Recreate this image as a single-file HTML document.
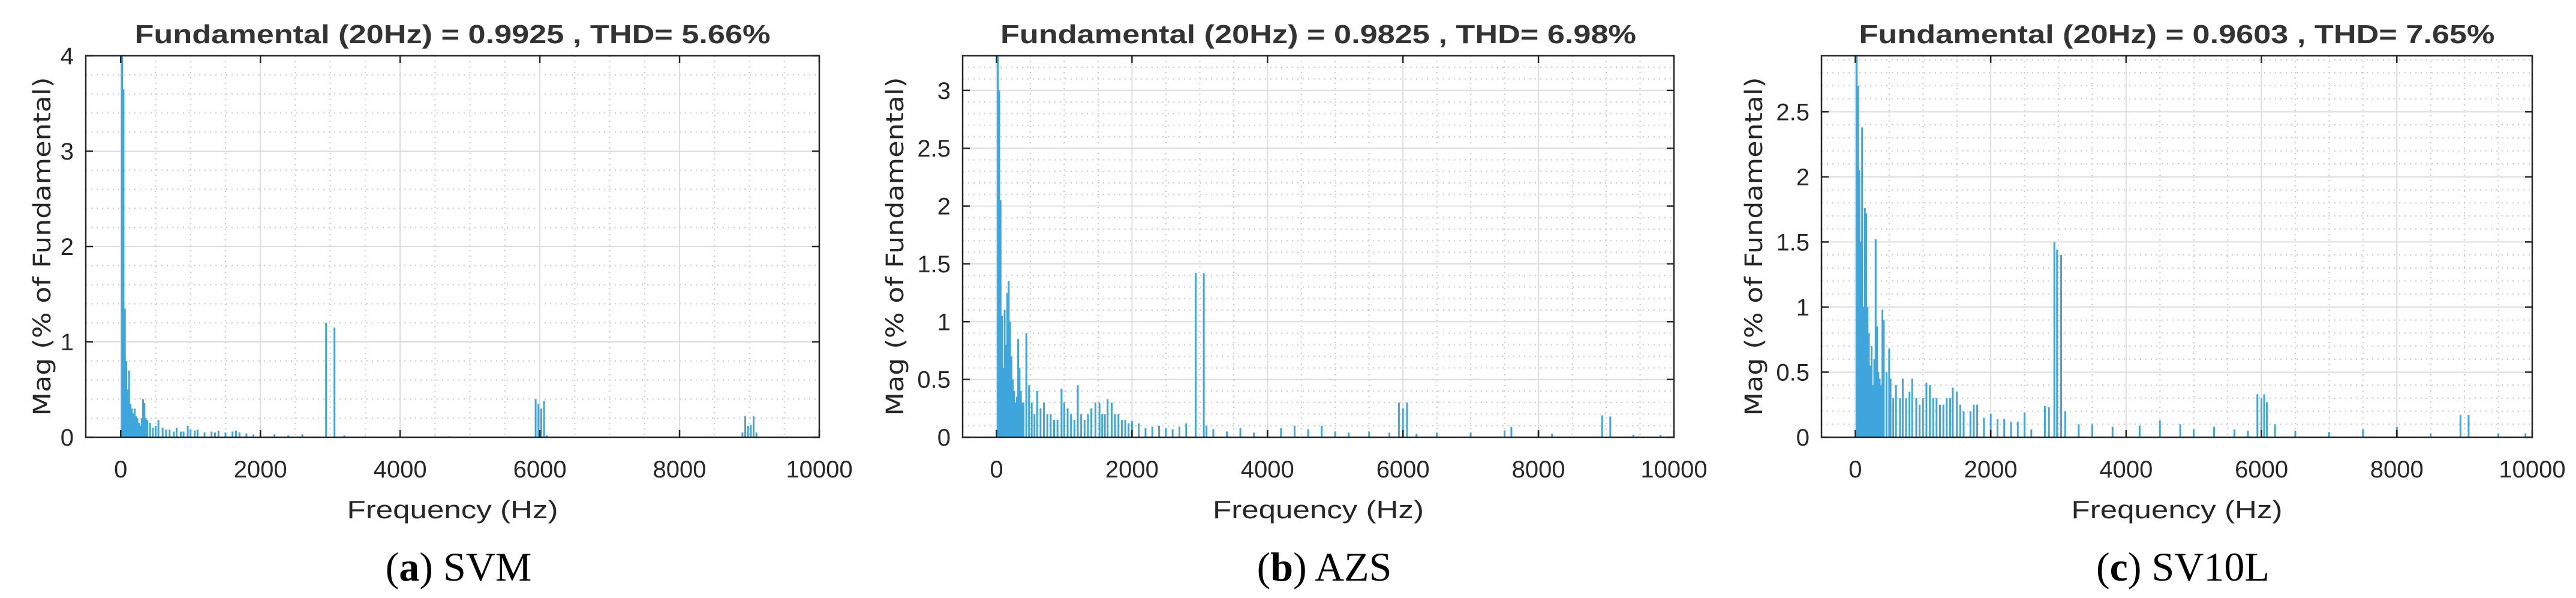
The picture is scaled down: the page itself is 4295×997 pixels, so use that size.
<!DOCTYPE html>
<html><head><meta charset="utf-8"><style>
html,body{margin:0;padding:0;background:#fff;}
svg{display:block;}
</style></head><body>
<svg id="fig" width="4295" height="997" viewBox="0 0 4295 997" xmlns="http://www.w3.org/2000/svg"></svg>
<script>
// ---- data: panel a (SVM)
const freqA = [20,40,60,80,100,120,140,160,180,200,220,240,260,280,300,320,340,360,380,420,460,500,540,600,650,700,760,800,860,900,960,1000,1060,1100,1200,1300,1350,1400,1500,1600,1650,1700,1800,1900,2000,2200,2400,2600,2940,3060,3200,3500,4500,4700,5940,5980,6020,6060,6100,8900,8940,8980,9020,9060,9100];
const magA  = [4.0,3.65,1.35,0.8,0.5,0.7,0.35,0.3,0.25,0.3,0.22,0.2,0.15,0.12,0.2,0.4,0.36,0.2,0.18,0.15,0.1,0.12,0.18,0.1,0.08,0.08,0.06,0.1,0.06,0.06,0.12,0.08,0.07,0.08,0.05,0.06,0.05,0.07,0.05,0.06,0.07,0.05,0.04,0.03,0.03,0.03,0.02,0.03,1.2,1.15,0.02,0.01,0.01,0.01,0.4,0.35,0.3,0.38,0.02,0.05,0.22,0.12,0.13,0.22,0.05];
// ---- data: panel b (AZS)
const freqB = [20,40,60,80,100,120,140,160,180,200,220,240,260,280,300,320,340,360,380,400,440,480,520,560,600,650,700,750,800,850,900,960,1000,1050,1100,1150,1200,1250,1300,1350,1400,1460,1520,1560,1600,1640,1700,1750,1800,1850,1900,1950,2000,2100,2200,2300,2400,2500,2600,2700,2800,2940,3060,3100,3200,3400,3600,3800,4000,4200,4400,4600,4800,5000,5200,5500,5800,5940,6000,6060,6200,6500,7000,7500,7600,8000,8200,8940,9060,9400,9800];
const magB  = [3.3,3.0,2.05,1.05,0.6,1.1,0.8,1.25,1.35,1.0,0.7,0.5,0.4,0.3,0.35,0.85,0.6,0.4,0.3,0.3,0.9,0.45,0.3,0.2,0.4,0.25,0.3,0.2,0.2,0.15,0.15,0.42,0.3,0.25,0.2,0.15,0.45,0.2,0.15,0.2,0.25,0.3,0.3,0.2,0.2,0.33,0.3,0.2,0.2,0.15,0.15,0.12,0.14,0.12,0.08,0.09,0.1,0.08,0.07,0.09,0.12,1.42,1.42,0.1,0.07,0.05,0.08,0.04,0.06,0.08,0.1,0.07,0.1,0.05,0.04,0.05,0.04,0.3,0.25,0.3,0.03,0.04,0.04,0.06,0.09,0.05,0.03,0.19,0.18,0.02,0.02];
// ---- data: panel c (SV10L)
const freqC = [20,40,60,80,100,120,140,160,180,200,220,240,260,280,300,320,340,360,380,400,420,460,500,520,560,600,660,700,750,800,840,900,950,1000,1050,1100,1150,1200,1250,1300,1350,1400,1440,1500,1550,1600,1700,1750,1800,1900,2000,2100,2200,2300,2400,2500,2600,2800,2860,2940,2980,3040,3100,3300,3500,3800,4200,4500,4800,5000,5300,5600,5800,5940,6000,6040,6080,6200,6500,7000,7500,8000,8500,8940,9060,9500,9900];
const magC  = [2.93,2.7,2.05,1.5,2.38,1.0,1.76,1.72,1.0,0.8,0.55,0.7,0.4,0.6,1.52,0.85,0.5,0.45,0.4,0.98,0.9,0.5,0.68,0.45,0.3,0.4,0.3,0.45,0.3,0.35,0.45,0.3,0.25,0.3,0.42,0.4,0.3,0.3,0.25,0.25,0.3,0.3,0.38,0.35,0.25,0.2,0.2,0.25,0.25,0.15,0.18,0.14,0.14,0.12,0.12,0.19,0.06,0.24,0.23,1.5,1.44,1.4,0.2,0.1,0.1,0.08,0.09,0.13,0.1,0.06,0.08,0.06,0.05,0.33,0.3,0.33,0.27,0.1,0.05,0.04,0.06,0.08,0.03,0.17,0.17,0.03,0.03];
const titles = ["Fundamental (20Hz) = 0.9925 , THD= 5.66%","Fundamental (20Hz) = 0.9825 , THD= 6.98%","Fundamental (20Hz) = 0.9603 , THD= 7.65%"];
const captionLetters = ["a","b","c"];
const captionNames = ["SVM","AZS","SV10L"];
const yMaxes = [4,3.3,2.93];
const yTicksA = [0,1,2,3,4];
const yTicksB = [0,0.5,1,1.5,2,2.5,3];
const yTicksC = [0,0.5,1,1.5,2,2.5];
const xTicks = [0,2000,4000,6000,8000,10000];

const NS="http://www.w3.org/2000/svg";
const svg=document.getElementById('fig');
function mk(tag,attrs,parent){const e=document.createElementNS(NS,tag);for(const k in attrs)e.setAttribute(k,attrs[k]);(parent||svg).appendChild(e);return e;}

const panels=[
 {L:143,R:1366,T:93,B:729,freq:freqA,mag:magA,yt:yTicksA,minorY:0.2,name:"svm",ylx:84},
 {L:1605,R:2791,T:93,B:729,freq:freqB,mag:magB,yt:yTicksB,minorY:0.1,name:"azs",ylx:1506},
 {L:3037,R:4222,T:93,B:729,freq:freqC,mag:magC,yt:yTicksC,minorY:0.1,name:"sv10l",ylx:2938}
];
panels.forEach((p,i)=>{
 const g=mk('g',{});
 
 
 const xs=v=>p.L+(v+500)/10500*(p.R-p.L);
 const ys=v=>p.B-v/yMaxes[i]*(p.B-p.T);
 for(let f=-500;f<=10000;f+=500){ if(f%2000===0) continue;
  const l=mk('line',{x1:xs(f),x2:xs(f),y1:p.T,y2:p.B,stroke:'#c8c8c8','stroke-width':2,'stroke-dasharray':'2,7'},g);
  }
 for(let k=1;k*p.minorY<yMaxes[i]-1e-6;k++){const v=k*p.minorY; if(p.yt.some(t=>Math.abs(t-v)<1e-6)) continue;
  const l=mk('line',{x1:p.L,x2:p.R,y1:ys(v),y2:ys(v),stroke:'#c8c8c8','stroke-width':2,'stroke-dasharray':'2,7'},g);
  }
 xTicks.forEach(t=>{const l=mk('line',{x1:xs(t),x2:xs(t),y1:p.T,y2:p.B,stroke:'#dcdcdc','stroke-width':2},g);
  });
 p.yt.forEach(t=>{const l=mk('line',{x1:p.L,x2:p.R,y1:ys(t),y2:ys(t),stroke:'#dcdcdc','stroke-width':2},g);
  });
 p.freq.forEach((f,j)=>{const l=mk('line',{x1:xs(f),x2:xs(f),y1:p.B,y2:ys(p.mag[j]),stroke:'#3ea6dc','stroke-width':3},g);
  });
 const r=mk('rect',{x:p.L,y:p.T,width:p.R-p.L,height:p.B-p.T,fill:'none',stroke:'#262626','stroke-width':2.5},g);
 
 xTicks.forEach(t=>{
  mk('line',{x1:xs(t),x2:xs(t),y1:p.B,y2:p.B-12,stroke:'#262626','stroke-width':2.5},g);
  mk('line',{x1:xs(t),x2:xs(t),y1:p.T,y2:p.T+12,stroke:'#262626','stroke-width':2.5},g);
  const tx=mk('text',{x:xs(t),y:796,'text-anchor':'middle','font-family':'Liberation Sans Narrow, Liberation Sans, sans-serif','font-size':40,fill:'#262626'},g);
  tx.textContent=t;
 });
 p.yt.forEach(t=>{
  mk('line',{x1:p.L,x2:p.L+12,y1:ys(t),y2:ys(t),stroke:'#262626','stroke-width':2.5},g);
  mk('line',{x1:p.R,x2:p.R-12,y1:ys(t),y2:ys(t),stroke:'#262626','stroke-width':2.5},g);
  const tx=mk('text',{x:p.L-20,y:ys(t)+14,'text-anchor':'end','font-family':'Liberation Sans Narrow, Liberation Sans, sans-serif','font-size':40,fill:'#262626'},g);
  tx.textContent=t;
 });
 const cx=(p.L+p.R)/2;
 const ti=mk('text',{x:cx,y:72,'text-anchor':'middle','font-family':'Liberation Sans, sans-serif','font-weight':'bold','font-size':44,fill:'#333',textLength:1060,lengthAdjust:'spacingAndGlyphs'},g);
 ti.textContent=titles[i];
 const xl=mk('text',{x:cx,y:864,'text-anchor':'middle','font-family':'Liberation Sans, sans-serif','font-size':42,fill:'#262626',textLength:352,lengthAdjust:'spacingAndGlyphs'},g);
 xl.textContent='Frequency (Hz)';
 const ylx=p.ylx, yly=411;
 const yl=mk('text',{x:ylx,y:yly,'text-anchor':'middle','font-family':'DejaVu Sans, sans-serif','font-size':40,fill:'#262626',transform:`rotate(-90 ${ylx} ${yly})`,textLength:565,lengthAdjust:'spacingAndGlyphs'},g);
 yl.textContent='Mag (% of Fundamental)';
 const cap=mk('text',{x:cx+10,y:968,'text-anchor':'middle','font-family':'Liberation Serif, serif','font-size':68,fill:'#000'},g);
 
 cap.appendChild(document.createTextNode('('));
 const b=mk('tspan',{'font-weight':'bold'},cap);b.textContent=captionLetters[i];
 cap.appendChild(document.createTextNode(') '+captionNames[i]));
});
</script>
</body></html>
